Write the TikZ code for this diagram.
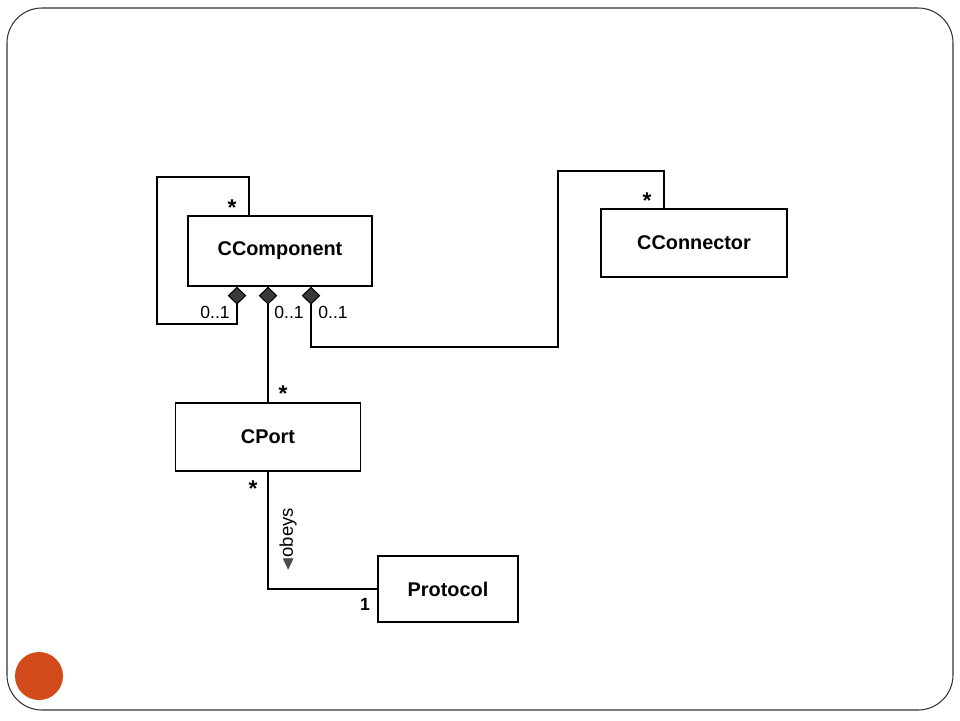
\documentclass[tikz,border=0pt]{standalone}
\usepackage{amssymb}
\usepackage{fontspec}
\setmainfont{Liberation Sans}
\usetikzlibrary{arrows.meta, calc}
\definecolor{slidedot}{HTML}{D24A1A}

\begin{document}
\begin{tikzpicture}
                [x=0.02cm, y=-0.02cm,
                class/.style={draw, line width=0.8pt, inner sep=0pt,
                    font=\fontsize{11.3}{13}\selectfont\bfseries},
                mult/.style={inner sep=1pt, font=\fontsize{10}{12}\selectfont},
                star/.style={inner sep=1pt, font=\fontsize{13}{14}\selectfont\bfseries},
                link/.style={line width=0.9pt},
                agg/.style={link, -{Diamond[length=10.2pt, width=10.6pt, fill=gray!45!black, line width=0.6pt]}}]
                \useasboundingbox (0,0) rectangle (960,720);
                \draw[gray!40!black, line width=0.6pt, rounded corners=0.7cm] (7,8) rectangle (953,710);
                \fill[slidedot] (39,676) circle (24);
                \node[class, minimum width=3.68cm, minimum height=1.4cm] (ccomp) at (280,251) {CComponent};
                \node[class, minimum width=3.72cm, minimum height=1.36cm] (cconn) at (694,243) {CConnector};
                \node[class, minimum width=3.7cm, minimum height=1.36cm] (cport) at (268,437) {CPort};
                \node[class, minimum width=2.8cm, minimum height=1.32cm] (proto) at (448,589) {Protocol};
                \coordinate (lp1) at (249,177);
                \coordinate (lp2) at (157,324);
                \coordinate (lp3) at (237,324);
                \coordinate (cn1) at (311,347);
                \coordinate (cn2) at (558,171);
                \coordinate (cn3) at (664,171);
                \draw[agg] (ccomp.north -| lp1) -- (lp1) -| (lp2) -- (lp3) -- (ccomp.south -| lp3);
                \draw[agg] (cport.north) -- (cport.north |- ccomp.south);
                \draw[agg] (cconn.north -| cn3) -- (cn3) -- (cn2) |- (cn1) -- (ccomp.south -| cn1);
                \draw[link] (cport.south) |- (proto.west);
                \node[star] (m1) at (232,208) {*};
                \node[mult] (m2) at (215,312) {0..1};
                \node[mult] (m3) at (289,312) {0..1};
                \node[star] (m4) at (283,394) {*};
                \node[mult] (m5) at (333,312) {0..1};
                \node[star] (m6) at (647,201) {*};
                \node[star] (m7) at (253,489) {*};
                \node[mult, font=\fontsize{10}{12}\selectfont\bfseries] (m8) at (365,604) {1};
                \node[mult, rotate=90, font=\fontsize{10.5}{12}\selectfont] (obeys) at (288,540)
                    {{\color{gray!60!black}$\blacktriangleleft$}obeys};
            \end{tikzpicture}
\end{document}
